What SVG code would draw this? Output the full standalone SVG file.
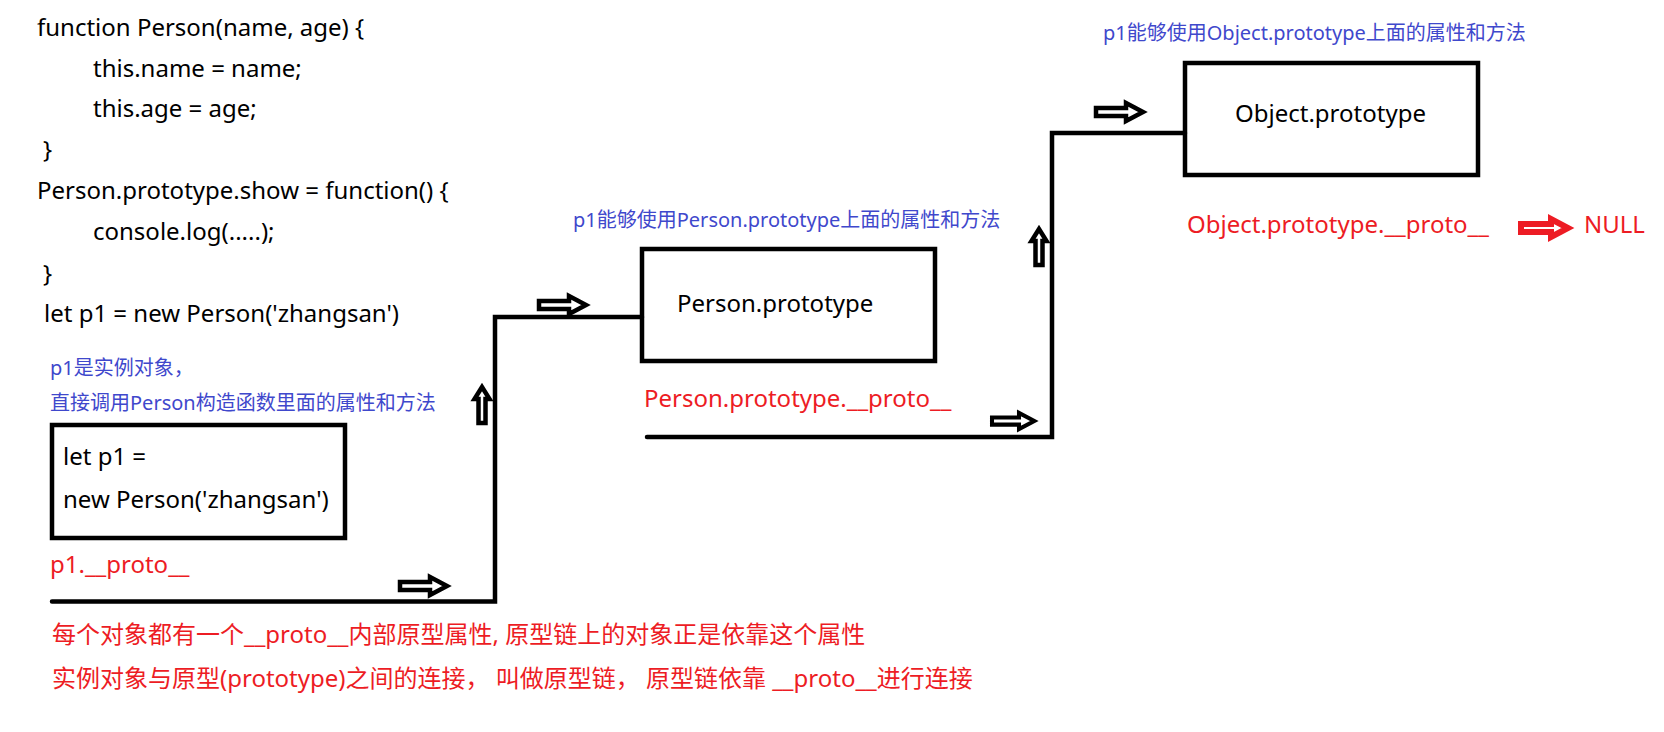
<svg xmlns="http://www.w3.org/2000/svg" width="1664" height="732" viewBox="0 0 1664 732">
<style>
text { font-family: 'Noto Sans', 'Noto Sans CJK SC', sans-serif; }
.code { font-size: 24px; fill: #000; }
.blue { font-size: 20px; fill: #3F48CC; }
.red { font-size: 24px; fill: #ED1C24; }
.note { font-size: 24px; fill: #ED1C24; }
.box { fill: none; stroke: #000; stroke-width: 4.5; }
.line { fill: none; stroke: #000; stroke-width: 4.5; stroke-linecap: round; stroke-linejoin: miter; }
.harrow { fill: #fff; stroke: #000; stroke-width: 4.5; stroke-linejoin: miter; }
.rarrow { fill: #fff; stroke: #ED1C24; stroke-width: 6; stroke-linejoin: miter; }
</style>
<defs>
<path id="arrowRight" d="M0,-4 H30 V-9 L47,0 L30,9 V4 H0 Z"/>
<path id="arrowUp" d="M-3.5,0 V-24 H-7.5 L0,-36 L7.5,-24 H3.5 V0 Z"/>
</defs>
<rect width="1664" height="732" fill="#fff"/>

<g id="code">
<text class="code" x="37" y="36">function Person(name, age) {</text>
<text class="code" x="93" y="77">this.name = name;</text>
<text class="code" x="93" y="117">this.age = age;</text>
<text class="code" x="43" y="158">}</text>
<text class="code" x="37" y="199">Person.prototype.show = function() {</text>
<text class="code" x="93" y="240">console.log(.....);</text>
<text class="code" x="43" y="282">}</text>
<text class="code" x="44" y="322">let p1 = new Person('zhangsan')</text>
</g>

<g id="connectors">
<path class="line" d="M52,601.5 H495 V317 H642"/>
<path class="line" d="M647,437 H1052 V133 H1185"/>
<use href="#arrowRight" class="harrow" transform="translate(400,586)"/>
<use href="#arrowUp" class="harrow" transform="translate(482,423)"/>
<use href="#arrowRight" class="harrow" transform="translate(539,305)"/>
<use href="#arrowRight" class="harrow" transform="translate(992,421) scale(0.9)"/>
<use href="#arrowUp" class="harrow" transform="translate(1039,265)"/>
<use href="#arrowRight" class="harrow" transform="translate(1096,112)"/>
</g>

<g id="p1">
<text class="blue" x="50" y="375">p1是实例对象，</text>
<text class="blue" x="50" y="410">直接调用Person构造函数里面的属性和方法</text>
<rect class="box" x="52" y="425" width="293" height="113"/>
<text class="code" x="63" y="465">let p1 =</text>
<text class="code" x="63" y="508">new Person('zhangsan')</text>
<text class="red" x="50" y="573">p1.__proto__</text>
</g>

<g id="person-prototype">
<text class="blue" x="573" y="227">p1能够使用Person.prototype上面的属性和方法</text>
<rect class="box" x="642" y="249" width="293" height="112"/>
<text class="code" x="677" y="312">Person.prototype</text>
<text class="red" x="644" y="407">Person.prototype.__proto__</text>
</g>

<g id="object-prototype">
<text class="blue" x="1103" y="40">p1能够使用Object.prototype上面的属性和方法</text>
<rect class="box" x="1185" y="63" width="293" height="112"/>
<text class="code" x="1235" y="122">Object.prototype</text>
<text class="red" x="1187" y="233">Object.prototype.__proto__</text>
</g>

<g id="null">
<use href="#arrowRight" class="rarrow" transform="translate(1521,228)"/>
<text class="red" x="1584" y="233">NULL</text>
</g>

<g id="notes">
<text class="note" x="52" y="643">每个对象都有一个__proto__内部原型属性, 原型链上的对象正是依靠这个属性</text>
<text class="note" x="52" y="687" xml:space="preserve">实例对象与原型(prototype)之间的连接， 叫做原型链， 原型链依靠 __proto__进行连接</text>
</g>
</svg>
